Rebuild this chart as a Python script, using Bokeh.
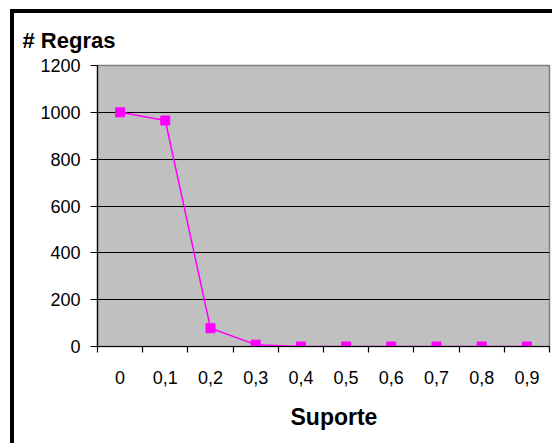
from bokeh.plotting import figure
from bokeh.models import Range1d, FixedTicker, Title
from bokeh.embed import file_html
from bokeh.resources import INLINE

# data
suporte_labels = ["0", "0,1", "0,2", "0,3", "0,4", "0,5", "0,6", "0,7", "0,8", "0,9"]
regras = [1000, 965, 78, 8, 0, 0, 0, 0, 0, 0]
y_ticks = [0, 200, 400, 600, 800, 1000, 1200]

xs = list(range(len(suporte_labels)))
boundaries = [i - 0.5 for i in range(len(suporte_labels) + 1)]

FONT = "Liberation Sans"

p = figure(width=542, height=434, output_backend="svg", toolbar_location=None,
           x_range=Range1d(-0.5, len(suporte_labels) - 0.5),
           y_range=Range1d(0, 1200),
           min_border_left=83, min_border_right=7, min_border_top=52, min_border_bottom=101,
           styles={"border-left": "4px solid black", "border-top": "4px solid black",
                   "margin-left": "10px", "margin-top": "9px"})

p.background_fill_color = "#C0C0C0"
p.border_fill_color = "white"
p.outline_line_color = "#808080"
p.outline_line_width = 1.5

# y-axis title, horizontal, above the axis
p.title = Title(text="# Regras", align="left", offset=-75, standoff=25, text_font=FONT,
                text_font_size="22px", text_font_style="bold", text_color="black")

# x-axis title
p.add_layout(Title(text="Suporte", align="left", offset=193, standoff=30, text_font=FONT,
                   text_font_size="23px", text_font_style="bold", text_color="black"),
             "below")

# grid
p.xgrid.grid_line_color = None
p.ygrid.grid_line_color = "black"
p.ygrid.grid_line_width = 1.2
p.ygrid.ticker = FixedTicker(ticks=y_ticks)

# y axis
p.yaxis.ticker = FixedTicker(ticks=y_ticks)
p.yaxis.axis_line_color = "black"
p.yaxis.axis_line_width = 1.2
p.yaxis.major_tick_out = 7
p.yaxis.major_tick_in = 0
p.yaxis.minor_tick_out = 0
p.yaxis.minor_tick_in = 0
p.yaxis.major_label_standoff = 10
p.yaxis.major_label_text_font = FONT
p.yaxis.major_label_text_font_size = "18px"
p.yaxis.major_label_text_color = "black"

# x axis: labels at category centers, tick marks between categories
p.xaxis.ticker = FixedTicker(ticks=xs, minor_ticks=boundaries)
p.xaxis.major_label_overrides = {i: s for i, s in zip(xs, suporte_labels)}
p.xaxis.axis_line_color = "black"
p.xaxis.axis_line_width = 1.2
p.xaxis.major_tick_out = 0
p.xaxis.major_tick_in = 0
p.xaxis.minor_tick_out = 6
p.xaxis.minor_tick_in = 0
p.xaxis.minor_tick_line_color = "black"
p.xaxis.minor_tick_line_width = 1.2
p.xaxis.major_label_standoff = 18
p.xaxis.major_label_text_font = FONT
p.xaxis.major_label_text_font_size = "18px"
p.xaxis.major_label_text_color = "black"

p.line(xs, regras, line_color="#FF00FF", line_width=1.5)
p.scatter(xs, regras, marker="square", size=9, fill_color="#FF00FF", line_color="#FF00FF")

open("out.html", "w").write(file_html(p, INLINE))
